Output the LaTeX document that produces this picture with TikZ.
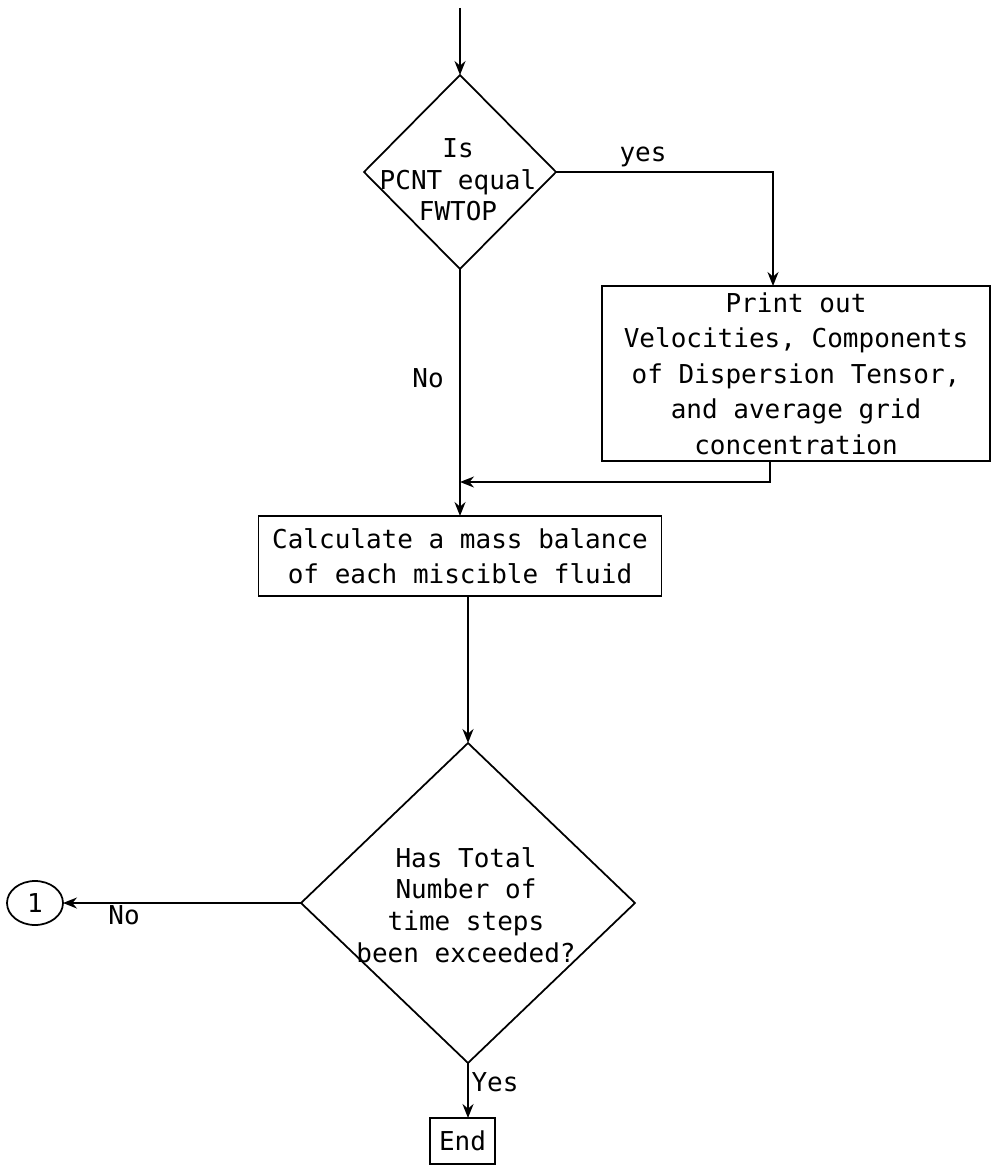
\documentclass[tikz,border=0pt]{standalone}
\usepackage{fontspec}
\setmainfont{DejaVu Sans Mono}
\usetikzlibrary{arrows.meta,shapes.geometric}

\begin{document}
\begin{tikzpicture}[x=0.02cm, y=-0.02cm,
    stepbox/.style={draw, line width=1pt, inner sep=2pt, outer sep=0pt,
                    align=center, font=\fontsize{14.8}{20.2}\selectfont},
    decision/.style={draw, diamond, line width=1pt, inner sep=0pt, outer sep=0pt},
    dtext/.style={align=center, font=\fontsize{14.8}{18}\selectfont},
    lbl/.style={font=\fontsize{14.8}{18}\selectfont},
    arrow/.style={-{Stealth[length=2.8mm, width=2.2mm]}, line width=1pt},
  ]
  \useasboundingbox (0,0) rectangle (999,1166);

  \coordinate (in) at (460,8);
  \node[decision, minimum width=3.84cm, minimum height=3.88cm] (d1) at (460,172) {};
  \node[dtext] (d1txt) at (458,180) {Is\\PCNT equal\\FWTOP};
  \node[stepbox, minimum width=7.76cm, minimum height=3.5cm] (p1) at (796,373.5)
    {Print out\\Velocities, Components\\of Dispersion Tensor,\\and average grid\\concentration};
  \coordinate (join) at (460,482);
  \node[stepbox, minimum width=8.06cm, minimum height=1.6cm] (calc) at (460,556)
    {Calculate a mass balance\\of each miscible fluid};
  \node[decision, minimum width=6.68cm, minimum height=6.4cm] (d2) at (468,903) {};
  \node[dtext] (d2txt) at (466,905) {Has Total\\Number of\\time steps\\been exceeded?};
  \node[draw, ellipse, line width=1pt, inner sep=0pt, outer sep=0pt,
        minimum width=1.12cm, minimum height=0.88cm, lbl] (conn) at (35,903) {1};
  \node[stepbox, minimum width=1.3cm, minimum height=0.92cm] (end) at (462.5,1141) {End};

  \node[lbl] (yes1) at (643,157) {yes};
  \node[lbl] (no1) at (428,378) {No};
  \node[lbl] (no2) at (124,915) {No};
  \node[lbl] (yes2) at (495,1082) {Yes};

  \draw[arrow] (in) -- (d1.north);
  \draw[arrow] (d1.east) -| ([xshift=-0.46cm]p1.north);
  \draw[arrow] (d1.south) -- (calc.north);
  \draw[arrow] ([xshift=-0.52cm]p1.south) |- (join);
  \draw[arrow] (calc.south -| d2.north) -- (d2.north);
  \draw[arrow] (d2.west) -- (conn.east);
  \draw[arrow] (d2.south) -- (d2.south |- end.north);
\end{tikzpicture}
\end{document}
